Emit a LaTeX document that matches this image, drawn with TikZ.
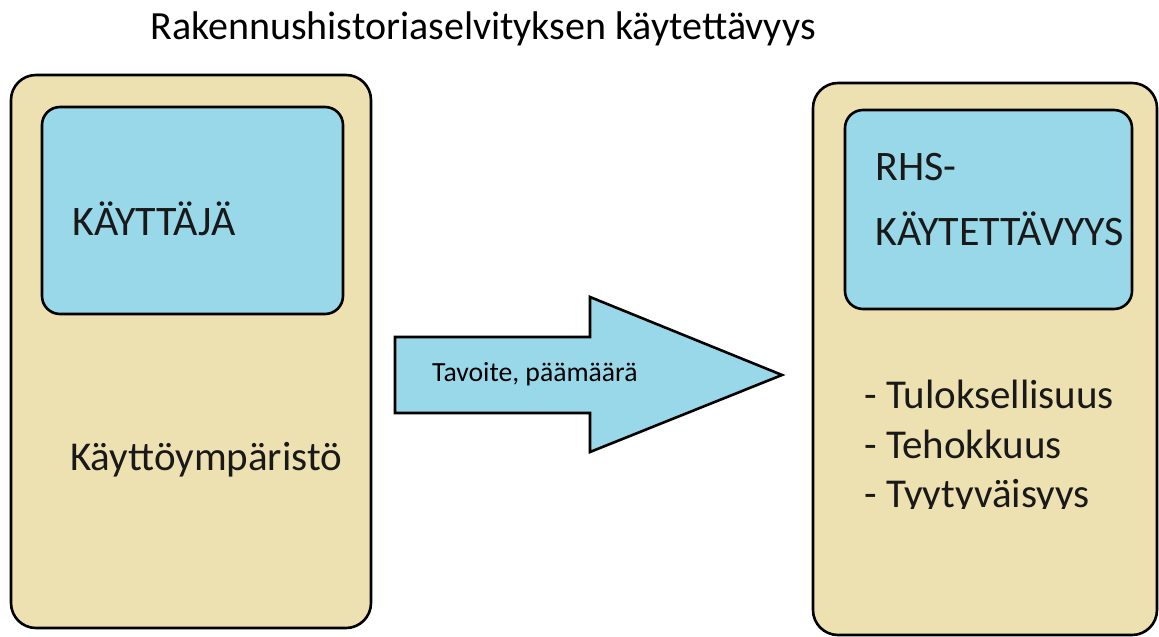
\documentclass[tikz,border=0pt]{standalone}
\usepackage{fontspec}
\setmainfont{Carlito}
\definecolor{tan}{RGB}{238,225,177}
\definecolor{skyb}{RGB}{153,216,233}
\tikzset{
  outerbox/.style={draw=black, line width=2.6pt, fill=tan, rounded corners=25pt, inner sep=0pt},
  innerbox/.style={draw=black, line width=2.6pt, fill=skyb, rounded corners=18pt, inner sep=0pt},
  captxt/.style={font=\fontsize{42}{50}\selectfont, inner sep=0pt, anchor=base west, text=black!90},
  bigtxt/.style={font=\fontsize{41}{49}\selectfont, inner sep=0pt, anchor=base west, text=black!90},
}
\begin{document}
\begin{tikzpicture}[x=1pt,y=-1pt]
\useasboundingbox (0,0) rectangle (1159,637);
\fill[white] (0,0) rectangle (1159,637);
% title
\node[font=\fontsize{40}{48}\selectfont, inner sep=0pt, anchor=base] (title) at (483,39) {Rakennushistoriaselvityksen käytettävyys};
% left
\node[outerbox, minimum width=360pt, minimum height=553pt] (lout) at (191,351.5) {};
\node[innerbox, minimum width=301pt, minimum height=207pt] (lin) at (192.5,210.5) {};
\node[captxt] (user) at (72,235) {KÄYTTÄJÄ};
\node[bigtxt] (env) at (70,470) {Käyttöympäristö};
% right
\node[outerbox, minimum width=344pt, minimum height=552pt] (rout) at (985,359) {};
\node[innerbox, minimum width=287pt, minimum height=199pt] (rin) at (988.5,209.5) {};
\node[captxt] (rhs) at (875,180) {RHS-};
\node[captxt] (kayt) at (875,245) {KÄYTETTÄVYYS};
\node[bigtxt] (l1) at (864,408) {- Tuloksellisuus};
\node[bigtxt] (l2) at (864,458) {- Tehokkuus};
\begin{scope}
\clip (813,470) rectangle (1159,508);
\node[bigtxt] (l3) at (864,507) {- Tyytyväisyys};
\end{scope}
% arrow
\draw[line width=2.6pt, fill=skyb, line join=miter]
  (395,337) -- (590,337) -- (590,297) -- (782,375) -- (590,452) -- (590,413) -- (395,413) -- cycle;
\node[font=\fontsize{27.7}{33}\selectfont, inner sep=0pt, anchor=base west] (goal) at (432,381) {Tavoite, päämäärä};
\end{tikzpicture}
\end{document}
